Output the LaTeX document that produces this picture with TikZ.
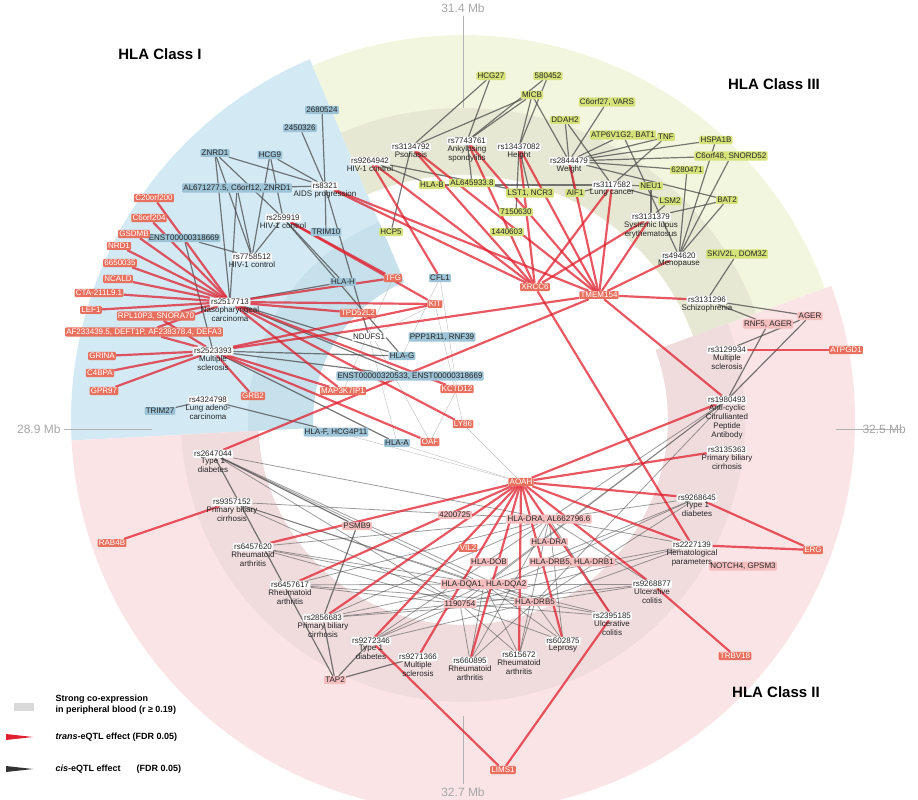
\documentclass[tikz,border=0pt]{standalone}
\usepackage{fontspec}
\setmainfont{Liberation Sans}
\usetikzlibrary{positioning}
\pgfdeclarelayer{bg}
\pgfdeclarelayer{edges}
\pgfsetlayers{bg,edges,main}
\definecolor{blueC}{HTML}{D3EAF5}
\definecolor{blueD}{HTML}{C6E0EC}
\definecolor{yelC}{HTML}{F3F6DE}
\definecolor{yelD}{HTML}{E6E8D4}
\definecolor{pinkC}{HTML}{FBE4E5}
\definecolor{pinkD}{HTML}{F0DCDD}
\definecolor{geneB}{HTML}{9DC3D6}
\definecolor{geneY}{HTML}{D5E27A}
\definecolor{geneR}{HTML}{E8705E}
\definecolor{geneP}{HTML}{F4BDBE}
\definecolor{transR}{HTML}{E0202E}
\newcommand\sector[5]{\fill[#1,shift={(463,420)}] (-#2:#4) arc[start angle=-#2,end angle=-#3,radius=#4]
  -- (-#3:#5) arc[start angle=-#3,end angle=-#2,radius=#5] -- cycle;}
\begin{document}
\begin{tikzpicture}[x=1pt,y=-1pt,font=\fontsize{8}{9}\selectfont,
  gene/.style={inner sep=1.2pt,rounded corners=1pt,text=black!85},
  gB/.style={gene,fill=geneB},
  gY/.style={gene,fill=geneY},
  gR/.style={gene,fill=geneR,text=white},
  gP/.style={gene,fill=geneP},
  snp/.style={gene,fill=white,draw=black!12},
  desc/.style={align=center,inner sep=0pt,font=\fontsize{8}{9}\selectfont,text=black!85},
  trans/.style={transR,line width=2.2pt,opacity=.75},
  cis/.style={black!70,line width=1.2pt,opacity=.75},
  coex/.style={black!25,line width=.4pt},
  tick/.style={black!30,line width=.8pt},
  mb/.style={text=black!35,font=\fontsize{12}{13}\selectfont},
  title/.style={font=\bfseries\fontsize{15}{16}\selectfont}]
\useasboundingbox (0,0) rectangle (918,800);
\begin{pgfonlayer}{bg}
\sector{blueC}{113}{183}{150}{392}
\sector{blueD}{113}{183}{150}{215}
\sector{yelC}{20}{113}{245}{385}
\sector{yelD}{20}{113}{245}{312}
\sector{pinkC}{183}{380}{205}{392}
\sector{pinkD}{183}{380}{205}{282}
\draw[tick] (463,16)--(463,108);
\draw[tick] (64,429)--(152,429);
\draw[tick] (836,429)--(902,429);
\draw[tick] (463,716)--(463,784);
\end{pgfonlayer}
\node[mb] at (463,8) {31.4 Mb};
\node[mb,left] at (64,429) {28.9 Mb};
\node[mb,right] at (859,429) {32.5 Mb};
\node[mb] at (463,792) {32.7 Mb};
\node[title] at (160,54) {HLA Class I};
\node[title] at (774,84) {HLA Class III};
\node[title] at (776,692) {HLA Class II};
% HLA class I
\node[gB] (g2680524) at (322,110) {2680524};
\node[gB] (g2450326) at (300,128) {2450326};
\node[gB] (ZNRD1) at (215,153) {ZNRD1};
\node[gB] (HCG9) at (270,155) {HCG9};
\node[gB] (AL671) at (237,188) {AL671277.5, C6orf12, ZNRD1};
\node[gB] (TRIM10) at (326,232) {TRIM10};
\node[gB] (ENSTa) at (184,238) {ENST00000318669};
\node[gB] (TRIM27) at (160,411) {TRIM27};
\node[gB] (HLAH) at (343,282) {HLA-H};
\node[gB] (CFL1) at (440,278) {CFL1};
\node[gene,fill=white] (NDUFS1) at (369,337) {NDUFS1};
\node[gB] (PPP1R11) at (442,337) {PPP1R11, RNF39};
\node[gB] (HLAG) at (402,356) {HLA-G};
\node[gB] (ENSTb) at (410,376) {ENST00000320533, ENST00000318669};
\node[gB] (HLAF) at (336,432) {HLA-F, HCG4P11};
\node[gB] (HLAA) at (397,443) {HLA-A};
\node[snp,label={[desc]below:AIDS progression}] (rs8321) at (325,186) {rs8321};
\node[snp,label={[desc]below:HIV-1 control}] (rs259919) at (283,218) {rs259919};
\node[snp,label={[desc]below:HIV-1 control}] (rs7758512) at (252,257) {rs7758512};
\node[snp,label={[desc]below:Nasopharyngeal\\carcinoma}] (rs2517713) at (230,302) {rs2517713};
\node[snp,label={[desc]below:Multiple\\sclerosis}] (rs2523393) at (213,351) {rs2523393};
\node[snp,label={[desc]below:Lung adeno-\\carcinoma}] (rs4324798) at (208,400) {rs4324798};
% trans genes
\node[gR] (C20orf200) at (154,198) {C20orf200};
\node[gR] (C6orf204) at (149,218) {C6orf204};
\node[gR] (GSDMB) at (134,234) {GSDMB};
\node[gR] (NRD1) at (119,246) {NRD1};
\node[gR] (g6650035) at (120,263) {6650035};
\node[gR] (NCALD) at (118,279) {NCALD};
\node[gR] (CTA) at (99,293) {CTA-211L9.1};
\node[gR] (LEF1) at (91,310) {LEF1};
\node[gR] (RPL10P3) at (156,316) {RPL10P3, SNORA70};
\node[gR] (AF233439) at (144,332) {AF233439.5, DEFT1P, AF238378.4, DEFA3};
\node[gR] (GRINA) at (102,356) {GRINA};
\node[gR] (C4BPA) at (100,373) {C4BPA};
\node[gR] (GPR97) at (104,391) {GPR97};
\node[gR] (GRB2) at (253,396) {GRB2};
\node[gR] (TFG) at (393,278) {TFG};
\node[gR] (KIT) at (435,304) {KIT};
\node[gR] (TPD52L2) at (358,313) {TPD52L2};
\node[gR] (MAP3K7IP1) at (343,391) {MAP3K7IP1};
\node[gR] (KCTD12) at (457,389) {KCTD12};
\node[gR] (LY86) at (463,424) {LY86};
\node[gR] (OAF) at (430,442) {OAF};
\node[gR] (XRCC6) at (535,287) {XRCC6};
\node[gR] (TMEM154) at (599,295) {TMEM154};
\node[gR] (AOAH) at (521,482) {AOAH};
\node[gR] (VIL2) at (468,548) {VIL2};
\node[gR] (RAB4B) at (112,543) {RAB4B};
\node[gR] (ATPGD1) at (846,350) {ATPGD1};
\node[gR] (ERG) at (813,550) {ERG};
\node[gR] (TRBV18) at (735,656) {TRBV18};
\node[gR] (LIMS1) at (503,770) {LIMS1};
% HLA class III
\node[gY] (HCG27) at (491,76) {HCG27};
\node[gY] (g580452) at (548,76) {580452};
\node[gY] (MICB) at (532,95) {MICB};
\node[gY] (C6orf27) at (607,102) {C6orf27, VARS};
\node[gY] (DDAH2) at (565,120) {DDAH2};
\node[gY] (ATP6V1G2) at (623,135) {ATP6V1G2, BAT1};
\node[gY] (TNF) at (666,137) {TNF};
\node[gY] (HSPA1B) at (716,140) {HSPA1B};
\node[gY] (C6orf48) at (731,156) {C6orf48, SNORD52};
\node[gY] (g6280471) at (687,170) {6280471};
\node[gY] (NEU1) at (651,186) {NEU1};
\node[gY] (LSM2) at (670,201) {LSM2};
\node[gY] (BAT2) at (727,200) {BAT2};
\node[gY] (SKIV2L) at (737,254) {SKIV2L, DOM3Z};
\node[gY] (HLAB) at (432,185) {HLA-B};
\node[gY] (AL645933) at (472,183) {AL645933.8};
\node[gY] (LST1) at (530,193) {LST1, NCR3};
\node[gY] (g7150630) at (516,212) {7150630};
\node[gY] (g1440603) at (507,232) {1440603};
\node[gY] (AIF1) at (575,193) {AIF1};
\node[gY] (HCP5) at (391,232) {HCP5};
\node[snp,label={[desc]below:HIV-1 control}] (rs9264942) at (370,161) {rs9264942};
\node[snp,label={[desc]below:Psoriasis}] (rs3134792) at (411,147) {rs3134792};
\node[snp,label={[desc]below:Ankylosing\\spondylitis}] (rs7743761) at (467,141) {rs7743761};
\node[snp,label={[desc]below:Height}] (rs13437082) at (519,147) {rs13437082};
\node[snp,label={[desc]below:Weight}] (rs2844479) at (569,161) {rs2844479};
\node[snp,label={[desc]below:Lung cancer}] (rs3117582) at (612,185) {rs3117582};
\node[snp,label={[desc]below:Systemic lupus\\erythematosus}] (rs3131379) at (651,217) {rs3131379};
\node[snp,label={[desc]below:Menopause}] (rs494620) at (679,256) {rs494620};
\node[snp,label={[desc]below:Schizophrenia}] (rs3131296) at (707,300) {rs3131296};
% HLA class II
\node[gP] (RNF5) at (768,324) {RNF5, AGER};
\node[gP] (AGER) at (810,316) {AGER};
\node[gP] (NOTCH4) at (743,566) {NOTCH4, GPSM3};
\node[gP] (TAP2) at (335,680) {TAP2};
\node[gP] (PSMB9) at (357,526) {PSMB9};
\node[gP] (g4200725) at (455,515) {4200725};
\node[gP] (DRAb) at (549,519) {HLA-DRA, AL662796.6};
\node[gP] (DRA) at (549,542) {HLA-DRA};
\node[gP] (DOB) at (489,562) {HLA-DOB};
\node[gP] (DRB5b) at (572,562) {HLA-DRB5, HLA-DRB1};
\node[gP] (DQA) at (484,584) {HLA-DQA1, HLA-DQA2};
\node[gP] (g1190754) at (460,604) {1190754};
\node[gP] (DRB5) at (535,602) {HLA-DRB5};
\node[snp,label={[desc]below:Multiple\\sclerosis}] (rs3129934) at (727,350) {rs3129934};
\node[snp,label={[desc]below:Anti-cyclic\\Citrullianted\\Peptide\\Antibody}] (rs1980493) at (727,400) {rs1980493};
\node[snp,label={[desc]below:Primary biliary\\cirrhosis}] (rs3135363) at (727,450) {rs3135363};
\node[snp,label={[desc]below:Type 1\\diabetes}] (rs9268645) at (697,498) {rs9268645};
\node[snp,label={[desc]below:Hematological\\parameters}] (rs2227139) at (692,545) {rs2227139};
\node[snp,label={[desc]below:Ulcerative\\colitis}] (rs9268877) at (652,584) {rs9268877};
\node[snp,label={[desc]below:Ulcerative\\colitis}] (rs2395185) at (612,616) {rs2395185};
\node[snp,label={[desc]below:Leprosy}] (rs602875) at (563,641) {rs602875};
\node[snp,label={[desc]below:Rheumatoid\\arthritis}] (rs615672) at (519,655) {rs615672};
\node[snp,label={[desc]below:Rheumatoid\\arthritis}] (rs660895) at (470,661) {rs660895};
\node[snp,label={[desc]below:Multiple\\sclerosis}] (rs9271366) at (418,657) {rs9271366};
\node[snp,label={[desc]below:Type 1\\diabetes}] (rs9272346) at (371,641) {rs9272346};
\node[snp,label={[desc]below:Primary biliary\\cirrhosis}] (rs2856683) at (323,618) {rs2856683};
\node[snp,label={[desc]below:Rheumatoid\\arthritis}] (rs6457617) at (290,585) {rs6457617};
\node[snp,label={[desc]below:Rheumatoid\\arthritis}] (rs6457620) at (253,547) {rs6457620};
\node[snp,label={[desc]below:Primary biliary\\cirrhosis}] (rs9357152) at (232,502) {rs9357152};
\node[snp,label={[desc]below:Type 1\\diabetes}] (rs2647044) at (213,454) {rs2647044};
% connectors
\begin{pgfonlayer}{edges}
\foreach \a/\b in {NDUFS1/HLAA,NDUFS1/KIT,CFL1/HLAG,HLAH/OAF,KIT/LY86,HLAF/AOAH,HLAA/AOAH,TFG/MAP3K7IP1,LY86/AOAH,OAF/KCTD12,CFL1/KCTD12}
  \draw[coex] (\a)--(\b);
\foreach \s/\g in {rs8321/g2680524,rs8321/g2450326,rs8321/ZNRD1,rs8321/HCG9,rs8321/AL671,rs8321/TRIM10,rs8321/NDUFS1,
  rs259919/ZNRD1,rs259919/HCG9,rs259919/HLAH,rs259919/HLAG,rs7758512/ZNRD1,rs7758512/HCG9,rs7758512/AL671,rs7758512/ENSTa,
  rs7758512/rs259919,rs2517713/ZNRD1,rs2517713/AL671,rs2517713/HLAG,rs2517713/ENSTb,rs2517713/HLAH,rs2523393/HLAG,
  rs2523393/ENSTb,rs2523393/HLAA,rs2523393/ENSTa,rs4324798/TRIM27,rs4324798/HLAF,
  rs3134792/HCG27,rs3134792/MICB,rs3134792/HCP5,rs7743761/HCG27,rs7743761/g580452,rs7743761/MICB,rs7743761/AL645933,
  rs13437082/MICB,rs13437082/g580452,rs13437082/LST1,rs13437082/g7150630,rs2844479/DDAH2,rs2844479/MICB,rs2844479/C6orf27,
  rs2844479/ATP6V1G2,rs2844479/TNF,rs2844479/HSPA1B,rs2844479/C6orf48,rs2844479/g6280471,rs2844479/AIF1,rs2844479/BAT2,
  rs3117582/DDAH2,rs3117582/TNF,rs3117582/NEU1,rs3117582/LSM2,rs3117582/HLAB,rs3117582/AIF1,rs9264942/HLAB,rs9264942/LST1,
  rs3131379/NEU1,rs3131379/LSM2,rs3131379/BAT2,rs494620/HSPA1B,rs494620/C6orf48,rs494620/g6280471,rs494620/BAT2,
  rs494620/ATP6V1G2,rs3131296/SKIV2L,rs3131296/AGER,rs3131296/RNF5,rs3129934/AGER,rs1980493/AGER,rs1980493/RNF5,
  rs2647044/TAP2,rs2856683/TAP2,rs9272346/TAP2,rs9271366/TAP2,rs2647044/PSMB9,rs2856683/PSMB9}
  \draw[cis] (\s)--(\g);
\foreach \s in {rs2647044,rs9357152,rs6457620,rs6457617,rs2856683,rs9272346,rs660895,rs615672,rs602875,rs2395185,rs9268877,rs2227139,rs9268645,rs1980493}
  \foreach \g in {DRAb,DQA,DRB5,g1190754}
    \draw[cis,line width=.8pt,opacity=.55] (\s)--(\g);
\foreach \s/\g in {rs2517713/C20orf200,rs2517713/C6orf204,rs2517713/GSDMB,rs2517713/NRD1,rs2517713/g6650035,
  rs2517713/NCALD,rs2517713/CTA,rs2517713/LEF1,rs2517713/RPL10P3,rs2517713/AF233439,rs2517713/KIT,rs2517713/TFG,
  rs2517713/TPD52L2,rs2517713/KCTD12,rs2517713/MAP3K7IP1,rs2517713/LY86,rs2523393/GRINA,rs2523393/C4BPA,
  rs2523393/GPR97,rs2523393/AF233439,rs2523393/RPL10P3,rs2523393/KIT,rs2523393/GRB2,rs2523393/MAP3K7IP1,
  rs2523393/OAF,rs2523393/TMEM154,rs259919/TFG,rs259919/KIT,rs8321/XRCC6,rs8321/TMEM154,rs9264942/XRCC6,
  rs9264942/CFL1,rs3134792/XRCC6,rs3134792/TMEM154,rs7743761/XRCC6,rs7743761/TMEM154,rs13437082/XRCC6,
  rs13437082/TMEM154,rs2844479/TMEM154,rs3117582/XRCC6,rs3117582/TMEM154,rs3131379/TMEM154,rs3131379/XRCC6,
  rs494620/TMEM154,rs3131296/TMEM154,rs1980493/TMEM154,rs1980493/AOAH,rs3129934/ATPGD1,rs3135363/AOAH,
  rs9268645/AOAH,rs9268645/ERG,rs2227139/AOAH,rs2227139/ERG,rs2227139/XRCC6,rs9268877/AOAH,rs9268877/TRBV18,
  rs2395185/AOAH,rs2395185/LIMS1,rs602875/AOAH,rs615672/AOAH,rs660895/AOAH,rs9271366/AOAH,rs9272346/AOAH,
  rs9272346/LIMS1,rs2856683/AOAH,rs6457617/AOAH,rs6457620/AOAH,rs9357152/RAB4B,rs2647044/TMEM154}
  \draw[trans] (\s)--(\g);
\end{pgfonlayer}
% legend
\fill[black!15] (14,703) rectangle (34,711);
\fill[transR] (6,734) -- (33,737) -- (6,740) -- cycle;
\fill[black!80] (6,766) -- (33,769) -- (6,772) -- cycle;
\node[anchor=west,align=left,font=\bfseries\fontsize{9}{11}\selectfont] (legcoex) at (52,705) {Strong co-expression\\in peripheral blood (r ≥ 0.19)};
\node[anchor=west,font=\bfseries\fontsize{9}{11}\selectfont] (legtrans) at (52,737) {\textit{trans}-eQTL effect (FDR 0.05)};
\node[anchor=west,font=\bfseries\fontsize{9}{11}\selectfont] (legcis) at (52,769) {\textit{cis}-eQTL effect\hspace{1.8em}(FDR 0.05)};
\end{tikzpicture}
\end{document}
